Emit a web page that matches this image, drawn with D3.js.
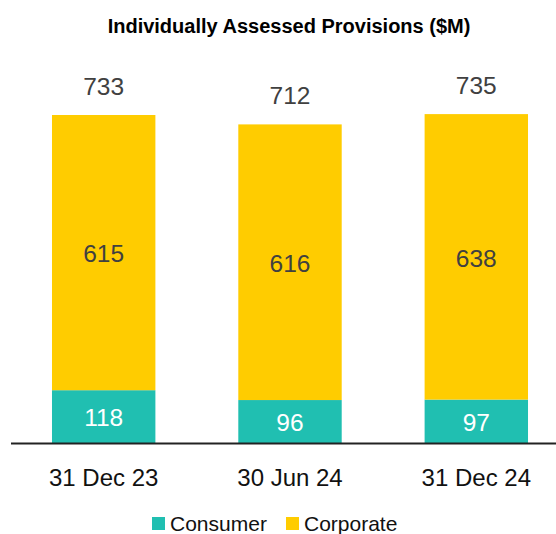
<!DOCTYPE html>
<html lang="en">
<head>
  <meta charset="UTF-8"/>
  <title>Individually Assessed Provisions</title>
  <script src="https://d3js.org/d3.v7.min.js"></script>
  <style>
    body { margin: 0; background: #fff; font-family: 'Liberation Sans', Arial, sans-serif; }
    svg { display: block; }
    text.title { font-size: 20px; font-weight: 700; fill: #000; }
    text.total { font-size: 24.5px; fill: #404040; }
    text.seg { font-size: 24.5px; }
    text.cat { font-size: 24px; fill: #111; }
    text.legend { font-size: 21px; fill: #111; }
  </style>
</head>
<body>
  <svg width="556" height="534"></svg>
<script>
  const periods = ['31 Dec 23', '30 Jun 24', '31 Dec 24'];
  const consumer = [118, 96, 97];
  const corporate = [615, 616, 638];
  const totals = [733, 712, 735];
  const seriesNames = ['Consumer', 'Corporate'];
  const colors = ['#20BFB1', '#FFCC00'];

  const svg = d3.select('svg');
  const baseline = 443;

  const x = d3.scaleBand()
    .domain(periods)
    .range([11, 569])
    .paddingInner(0.445)
    .paddingOuter(0.22);

  // px per $M taken from the 733 bar
  const y = d3.scaleLinear()
    .domain([0, 733])
    .range([baseline, 115]);

  const rows = periods.map((p, i) => ({ period: p, Consumer: consumer[i], Corporate: corporate[i], total: totals[i] }));
  const stacked = d3.stack().keys(seriesNames)(rows);

  svg.append('text')
    .attr('class', 'title')
    .attr('x', 289)
    .attr('y', 33)
    .attr('text-anchor', 'middle')
    .text('Individually Assessed Provisions ($M)');

  const layers = svg.selectAll('g.layer')
    .data(stacked)
    .enter()
    .append('g')
    .attr('class', 'layer')
    .attr('fill', (d, i) => colors[i]);

  layers.selectAll('rect')
    .data(d => d)
    .enter()
    .append('rect')
    .attr('x', d => x(d.data.period))
    .attr('y', d => y(d[1]))
    .attr('width', x.bandwidth())
    .attr('height', d => y(d[0]) - y(d[1]));

  layers.selectAll('text')
    .data((d, i) => d.map(v => ({ v, i, key: d.key })))
    .enter()
    .append('text')
    .attr('class', 'seg')
    .attr('x', d => x(d.v.data.period) + x.bandwidth() / 2)
    .attr('y', d => (y(d.v[0]) + y(d.v[1])) / 2 + 1)
    .attr('dy', '0.36em')
    .attr('text-anchor', 'middle')
    .attr('fill', d => d.i === 0 ? '#fff' : '#404040')
    .text(d => d.v.data[d.key]);

  svg.selectAll('text.total')
    .data(rows)
    .enter()
    .append('text')
    .attr('class', 'total')
    .attr('x', d => x(d.period) + x.bandwidth() / 2)
    .attr('y', d => y(d.total) - 20)
    .attr('text-anchor', 'middle')
    .text(d => d.total);

  svg.append('line')
    .attr('x1', 11)
    .attr('x2', 556)
    .attr('y1', baseline + 0.5)
    .attr('y2', baseline + 0.5)
    .attr('stroke', '#222')
    .attr('stroke-width', 2);

  svg.selectAll('text.cat')
    .data(periods)
    .enter()
    .append('text')
    .attr('class', 'cat')
    .attr('x', d => x(d) + x.bandwidth() / 2)
    .attr('y', 486)
    .attr('text-anchor', 'middle')
    .text(d => d);

  const legendX = [152, 286];
  const legend = svg.selectAll('g.leg')
    .data(seriesNames)
    .enter()
    .append('g')
    .attr('class', 'leg')
    .attr('transform', (d, i) => `translate(${legendX[i]}, 517)`);

  legend.append('rect')
    .attr('width', 13)
    .attr('height', 13)
    .attr('fill', (d, i) => colors[i]);

  legend.append('text')
    .attr('class', 'legend')
    .attr('x', 18)
    .attr('y', 14)
    .text(d => d);
</script>
</body>
</html>
